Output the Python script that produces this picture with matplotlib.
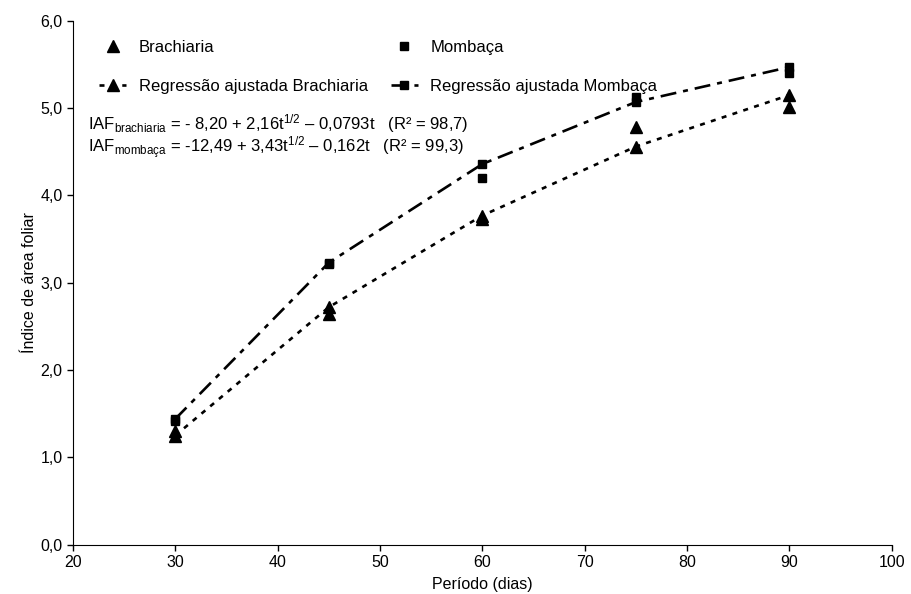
import matplotlib.pyplot as plt

plt.rcParams["font.family"] = ["Liberation Sans", "DejaVu Sans"]
plt.rcParams["mathtext.fontset"] = "custom"
plt.rcParams["mathtext.rm"] = "Liberation Sans"
plt.rcParams["mathtext.default"] = "regular"
plt.rcParams["lines.scale_dashes"] = False

# days after cutting
dias = [30, 45, 60, 75, 90]

# observed leaf area index
brach_obs = [1.30, 2.64, 3.73, 4.78, 5.01]
momb_obs = [1.42, 3.22, 4.20, 5.13, 5.40]

# fitted values
brach_fit = [1.25, 2.72, 3.77, 4.56, 5.15]
momb_fit = [1.44, 3.23, 4.36, 5.07, 5.47]

eq_brach = r"IAF$_{brachiaria}$ = - 8,20 + 2,16t$^{1/2}$ – 0,0793t   (R² = 98,7)"
eq_momb = r"IAF$_{mombaça}$ = -12,49 + 3,43t$^{1/2}$ – 0,162t   (R² = 99,3)"

fig = plt.figure(figsize=(9.11, 5.94), dpi=100)
ax = fig.add_axes([0.080, 0.083, 0.899, 0.882])

h_b, = ax.plot(dias, brach_obs, ls="none", marker="^", ms=8, color="black")
h_m, = ax.plot(dias, momb_obs, ls="none", marker="s", ms=6, color="black")
h_bf, = ax.plot(dias, brach_fit, color="black", lw=1.9, marker="^", ms=8,
                dashes=(3.6, 4.6))
h_mf, = ax.plot(dias, momb_fit, color="black", lw=1.9, marker="s", ms=6,
                dashes=(11.5, 5.0, 3.6, 5.0))

ax.set_xlim(20, 100)
ax.set_ylim(0, 6)
ax.set_xticks(range(20, 101, 10))
ax.set_yticks(range(0, 7))
ax.set_yticklabels([f"{v:.1f}".replace(".", ",") for v in range(0, 7)])
ax.tick_params(labelsize=11.5, direction="out", length=4, width=1)
for side in ("top", "right"):
    ax.spines[side].set_visible(False)

ax.set_xlabel("Período (dias)", fontsize=11.5, labelpad=5)
ax.set_ylabel("Índice de área foliar", fontsize=11.5, labelpad=2)

ax.legend(
    [h_b, h_bf, h_m, h_mf],
    ["Brachiaria", "Regressão ajustada Brachiaria", "Mombaça", "Regressão ajustada Mombaça"],
    ncol=2,
    loc="upper left",
    bbox_to_anchor=(0.014, 0.992),
    frameon=False,
    fontsize=12,
    handlelength=1.6,
    handletextpad=0.75,
    columnspacing=1.4,
    labelspacing=1.45,
)

ax.text(0.019, 0.803, eq_brach, transform=ax.transAxes, fontsize=12, va="center")
ax.text(0.019, 0.757, eq_momb, transform=ax.transAxes, fontsize=12, va="center")

fig.savefig("out.png", dpi=100)
